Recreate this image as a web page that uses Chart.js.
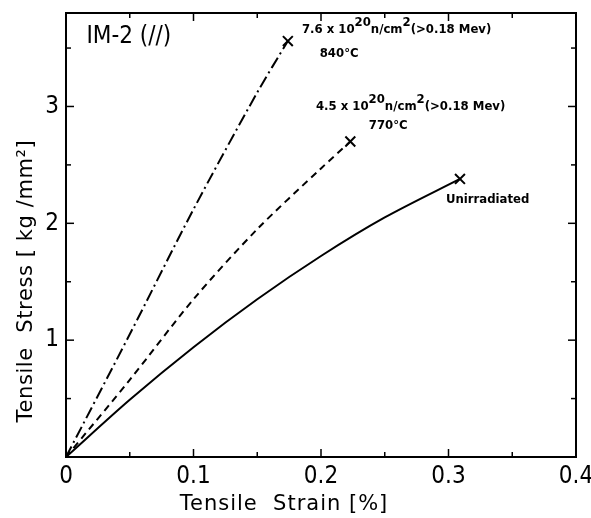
<!DOCTYPE html>
<html>
<head>
<meta charset="utf-8">
<script src="https://cdn.jsdelivr.net/npm/chart.js@4.4.1/dist/chart.umd.min.js"></script>
<style>
  html, body { margin: 0; padding: 0; background: #fff; overflow: hidden; }
  #wrap { width: 591px; height: 518px; }
</style>
</head>
<body>
<div id="wrap"><canvas id="c"></canvas></div>
<script>
// --- data ---
const strain840 = [0, 0.05, 0.10, 0.15, 0.174];
const stress840 = [0, 1.05, 2.12, 3.12, 3.56];

const strain770 = [0, 0.05, 0.10, 0.15, 0.20, 0.223];
const stress770 = [0, 0.66, 1.35, 1.95, 2.47, 2.70];

const strainUnirr = [0, 0.05, 0.10, 0.15, 0.20, 0.25, 0.309];
const stressUnirr = [0, 0.49, 0.94, 1.35, 1.72, 2.05, 2.38];

const xMajorTicks = [0, 0.1, 0.2, 0.3, 0.4];
const xMinorTicks = [0.05, 0.15, 0.25, 0.35];
const yMajorTicks = [1, 2, 3];
const yMinorTicks = [0.5, 1.5, 2.5, 3.5];

const NARROW = '"Liberation Sans Narrow", "DejaVu Sans Condensed", sans-serif';
const COND = '"DejaVu Sans Condensed", "DejaVu Sans", sans-serif';
const SANS = '"DejaVu Sans", sans-serif';

function toPoints(xs, ys) {
  return xs.map((v, i) => ({ x: v, y: ys[i] }));
}
// only the end point gets the X mark
function endMark(xs) {
  return xs.map((v, i) => i === xs.length - 1 ? 7 : 0);
}

function makeSet(xs, ys, dash) {
  return {
    data: toPoints(xs, ys),
    showLine: true,
    borderColor: '#000',
    backgroundColor: '#000',
    borderWidth: 2,
    borderDash: dash,
    tension: 0.3,
    pointStyle: 'crossRot',
    pointRadius: endMark(xs),
    pointBorderWidth: 2,
    pointBorderColor: '#000'
  };
}

// frame with inward ticks on all four sides
const frameTicks = {
  id: 'frameTicks',
  afterDatasetsDraw(chart) {
    const { ctx, chartArea: a, scales: { x, y } } = chart;
    ctx.save();
    ctx.strokeStyle = '#000';
    ctx.lineWidth = 2;
    ctx.strokeRect(a.left, a.top, a.right - a.left, a.bottom - a.top);
    ctx.lineWidth = 1.5;
    const seg = (x1, y1, x2, y2) => { ctx.beginPath(); ctx.moveTo(x1, y1); ctx.lineTo(x2, y2); ctx.stroke(); };
    const xt = (v, len) => {
      const px = x.getPixelForValue(v);
      seg(px, a.bottom, px, a.bottom - len);
      seg(px, a.top, px, a.top + len);
    };
    const yt = (v, len) => {
      const py = y.getPixelForValue(v);
      seg(a.left, py, a.left + len, py);
      seg(a.right, py, a.right - len, py);
    };
    xMajorTicks.slice(1, -1).forEach(v => xt(v, 8));
    xMinorTicks.forEach(v => xt(v, 5));
    yMajorTicks.forEach(v => yt(v, 8));
    yMinorTicks.forEach(v => yt(v, 5));
    ctx.restore();
  }
};

// axis titles (off-centre in the original) and text labels in the plot
const notes = {
  id: 'notes',
  afterDraw(chart) {
    const { ctx, scales: { x, y } } = chart;
    ctx.save();
    ctx.fillStyle = '#000';
    ctx.textBaseline = 'alphabetic';
    ctx.textAlign = 'left';

    // parts: [text, isSuperscript]
    const rich = (parts, vx, vy, size, weight) => {
      let px = x.getPixelForValue(vx);
      const py = y.getPixelForValue(vy);
      parts.forEach(([t, sup]) => {
        ctx.font = weight + ' ' + size + 'px ' + COND;
        ctx.fillText(t, px, sup ? py - size * 0.5 : py);
        px += ctx.measureText(t).width;
      });
    };

    rich([['IM-2 (//)', false]], 0.016, 3.54, 24, 'normal');
    rich([['7.6 x 10', false], ['20', true], ['n/cm', false], ['2', true], ['(>0.18 Mev)', false]], 0.185, 3.63, 13, 'bold');
    rich([['840°C', false]], 0.199, 3.42, 13, 'bold');
    rich([['4.5 x 10', false], ['20', true], ['n/cm', false], ['2', true], ['(>0.18 Mev)', false]], 0.196, 2.97, 13, 'bold');
    rich([['770°C', false]], 0.2375, 2.81, 13, 'bold');
    rich([['Unirradiated', false]], 0.298, 2.17, 13, 'bold');

    // x title
    ctx.font = '21px ' + SANS;
    ctx.letterSpacing = '1px';
    ctx.textAlign = 'center';
    ctx.fillText('Tensile  Strain [%]', 284, 510);
    // y title
    ctx.letterSpacing = '0.6px';
    ctx.translate(32, 281);
    ctx.rotate(-Math.PI / 2);
    ctx.fillText('Tensile  Stress [ kg /mm²]', 0, 0);
    ctx.restore();
  }
};

new Chart(document.getElementById('c'), {
  type: 'scatter',
  data: {
    datasets: [
      makeSet(strain840, stress840, [12, 4, 2, 4]),
      makeSet(strain770, stress770, [7, 5]),
      makeSet(strainUnirr, stressUnirr, [])
    ]
  },
  options: {
    responsive: true,
    maintainAspectRatio: false,
    animation: false,
    layout: { padding: { top: 13, right: 15, left: 0, bottom: 0 } },
    plugins: { legend: { display: false }, tooltip: { enabled: false } },
    scales: {
      x: {
        type: 'linear',
        min: 0,
        max: 0.4,
        afterBuildTicks: s => { s.ticks = xMajorTicks.map(v => ({ value: v })); },
        afterFit: s => { s.height = 61; s.paddingLeft = 0; s.paddingRight = 0; },
        grid: { drawOnChartArea: false, drawTicks: false },
        border: { display: false },
        ticks: {
          color: '#000',
          padding: 5,
          font: { family: NARROW, size: 24 },
          maxRotation: 0,
          callback: v => String(v)
        }
      },
      y: {
        type: 'linear',
        min: 0,
        max: 3.8,
        afterBuildTicks: s => { s.ticks = yMajorTicks.map(v => ({ value: v })); },
        afterFit: s => { s.width = 66; s.paddingTop = 0; s.paddingBottom = 0; },
        grid: { drawOnChartArea: false, drawTicks: false },
        border: { display: false },
        ticks: {
          color: '#000',
          padding: 7,
          font: { family: NARROW, size: 24 },
          callback: v => String(v)
        }
      }
    }
  },
  plugins: [frameTicks, notes]
});
</script>
</body>
</html>
